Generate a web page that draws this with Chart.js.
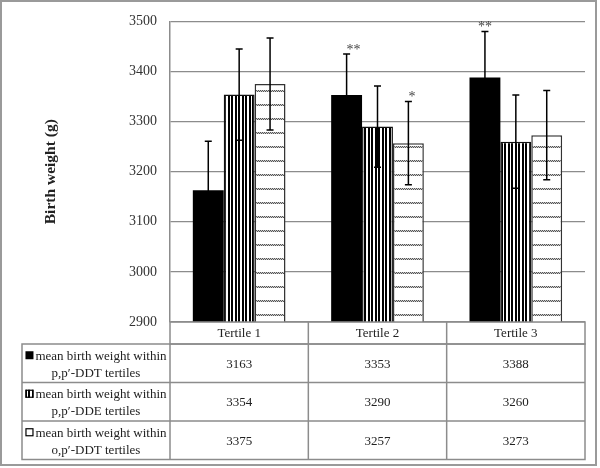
<!DOCTYPE html>
<html>
<head>
<meta charset="utf-8">
<script src="https://cdn.jsdelivr.net/npm/chart.js@4"></script>
<style>
  html, body { margin: 0; padding: 0; background: #fff; }
  #wrap { width: 600px; height: 468px; }
</style>
</head>
<body>
<div id="wrap"><canvas id="chart" width="600" height="468"></canvas></div>
<script>
// data
const categories = ["Tertile 1", "Tertile 2", "Tertile 3"];
const seriesLine1 = "mean birth weight within";
const seriesLine2 = ["p,p\u2032-DDT tertiles", "p,p\u2032-DDE tertiles", "o,p\u2032-DDT tertiles"];
const ddtMeans = [3163, 3353, 3388];
const ddeMeans = [3354, 3290, 3260];
const opDdtMeans = [3375, 3257, 3273];
const ddtErr = [98, 82, 92];
const ddeErr = [91, 81, 93];
const opDdtErr = [92, 83, 89];
const yTicks = [2900, 3000, 3100, 3200, 3300, 3400, 3500];
// significance marks: series index, category index, text
const marks = [
    { series: 0, cat: 1, text: "**", align: "left" },
    { series: 0, cat: 2, text: "**", align: "center" },
    { series: 2, cat: 1, text: "*", align: "left" }
];

const SERIF = "'Liberation Serif', 'DejaVu Serif', serif";

// fill patterns
function stripes() {
    const c = document.createElement("canvas");
    c.width = 7; c.height = 4;
    const g = c.getContext("2d");
    g.fillStyle = "#fff"; g.fillRect(0, 0, 7, 4);
    g.fillStyle = "#000"; g.fillRect(0, 0, 2, 4); g.fillRect(4, 0, 2, 4);
    return g.createPattern(c, "repeat");
}
function dots() {
    const c = document.createElement("canvas");
    c.width = 2; c.height = 14;
    const g = c.getContext("2d");
    g.fillStyle = "#fff"; g.fillRect(0, 0, 2, 14);
    g.fillStyle = "#555"; g.fillRect(0, 6, 1, 1); g.fillRect(1, 7, 1, 1);
    g.fillStyle = "#ccc"; g.fillRect(1, 6, 1, 1); g.fillRect(0, 7, 1, 1);
    return g.createPattern(c, "repeat");
}
const fills = ["#000", stripes(), dots()];
const errs = [ddtErr, ddeErr, opDdtErr];

// error bars + asterisks
const errorBars = {
    id: "errorBars",
    afterDatasetsDraw(chart) {
        const ctx = chart.ctx;
        const y = chart.scales.y;
        ctx.save();
        ctx.strokeStyle = "#000";
        ctx.lineWidth = 1.5;
        chart.data.datasets.forEach((ds, di) => {
            chart.getDatasetMeta(di).data.forEach((bar, i) => {
                const v = ds.data[i], e = errs[di][i];
                const top = y.getPixelForValue(v + e);
                const bot = y.getPixelForValue(v - e);
                ctx.beginPath();
                ctx.moveTo(bar.x, top); ctx.lineTo(bar.x, bot);
                ctx.moveTo(bar.x - 3.5, top); ctx.lineTo(bar.x + 3.5, top);
                ctx.moveTo(bar.x - 3.5, bot); ctx.lineTo(bar.x + 3.5, bot);
                ctx.stroke();
            });
        });
        ctx.fillStyle = "#444";
        ctx.font = "14px " + SERIF;
        ctx.textBaseline = "middle";
        marks.forEach(m => {
            const bar = chart.getDatasetMeta(m.series).data[m.cat];
            const v = chart.data.datasets[m.series].data[m.cat] + errs[m.series][m.cat];
            ctx.textAlign = m.align;
            ctx.fillText(m.text, bar.x, y.getPixelForValue(v) - 4);
        });
        ctx.restore();
    }
};

// data table under the plot + outer frame
const dataTable = {
    id: "dataTable",
    afterDraw(chart) {
        const ctx = chart.ctx;
        const x = chart.scales.x;
        const area = chart.chartArea;
        const colW = (area.right - area.left) / categories.length;
        const headBottom = area.bottom + 22;
        const rowH = 38.5;
        const left = 22;
        const series = [ddtMeans, ddeMeans, opDdtMeans];
        ctx.save();
        ctx.strokeStyle = "#8c8c8c";
        ctx.lineWidth = 1.5;
        // header
        ctx.strokeRect(area.left, area.bottom, area.right - area.left, headBottom - area.bottom);
        ctx.beginPath();
        for (let i = 1; i < categories.length; i++) {
            ctx.moveTo(area.left + colW * i, area.bottom);
            ctx.lineTo(area.left + colW * i, headBottom + rowH * series.length);
        }
        ctx.stroke();
        ctx.strokeRect(left, headBottom, area.right - left, rowH * series.length);
        ctx.beginPath();
        ctx.moveTo(area.left, headBottom); ctx.lineTo(area.left, headBottom + rowH * series.length);
        for (let r = 1; r < series.length; r++) {
            ctx.moveTo(left, headBottom + rowH * r); ctx.lineTo(area.right, headBottom + rowH * r);
        }
        ctx.stroke();

        ctx.fillStyle = "#222";
        ctx.font = "13px " + SERIF;
        ctx.textAlign = "center";
        ctx.textBaseline = "middle";
        categories.forEach((c, i) => {
            ctx.fillText(c, x.getPixelForValue(i), (area.bottom + headBottom) / 2 + 1);
        });
        series.forEach((vals, r) => {
            const mid = headBottom + rowH * r + rowH / 2;
            vals.forEach((v, i) => ctx.fillText(String(v), x.getPixelForValue(i), mid + 1));
            // legend cell
            const cx = (left + area.left) / 2;
            const w1 = ctx.measureText(seriesLine1).width;
            const tot = w1 + 10;
            const sx = cx - tot / 2;
            const ly = mid - 8;
            ctx.fillStyle = fills[r];
            ctx.fillRect(sx, ly - 4, 8, 8);
            if (r > 0) {
                ctx.strokeStyle = "#000";
                ctx.lineWidth = 1.2;
                ctx.strokeRect(sx + 0.5, ly - 3.5, 7, 7);
            }
            ctx.fillStyle = "#222";
            ctx.textAlign = "left";
            ctx.fillText(seriesLine1, sx + 10, ly + 1);
            ctx.textAlign = "center";
            ctx.fillText(seriesLine2[r], cx, mid + 10);
        });
        // outer frame
        ctx.strokeStyle = "#9a9a9a";
        ctx.lineWidth = 2;
        ctx.strokeRect(1, 1, 595, 464);
        ctx.restore();
    }
};

new Chart(document.getElementById("chart"), {
    type: "bar",
    data: {
        labels: categories,
        datasets: [
            { label: seriesLine1 + " " + seriesLine2[0], data: ddtMeans, backgroundColor: fills[0], borderColor: "#000", borderWidth: 0 },
            { label: seriesLine1 + " " + seriesLine2[1], data: ddeMeans, backgroundColor: fills[1], borderColor: "#111", borderWidth: 1.5 },
            { label: seriesLine1 + " " + seriesLine2[2], data: opDdtMeans, backgroundColor: fills[2], borderColor: "#333", borderWidth: 1.5 }
        ]
    },
    options: {
        responsive: false,
        animation: false,
        layout: { padding: { left: 42, right: 15, top: 16, bottom: 146 } },
        datasets: { bar: { categoryPercentage: 0.67, barPercentage: 1 } },
        plugins: { legend: { display: false }, tooltip: { enabled: false } },
        scales: {
            x: { display: false },
            y: {
                min: yTicks[0],
                max: yTicks[yTicks.length - 1],
                afterBuildTicks(scale) { scale.ticks = yTicks.map(v => ({ value: v })); },
                afterFit(scale) { scale.width = 128; },
                grid: { color: "#8c8c8c", lineWidth: 1.2, drawTicks: false },
                border: { color: "#8c8c8c", width: 1.5 },
                ticks: {
                    padding: 13, color: "#333",
                    font: { family: SERIF, size: 14 },
                    callback: v => String(v)
                },
                title: {
                    display: true,
                    text: "Birth weight (g)",
                    color: "#222",
                    padding: { top: 0, bottom: 0 },
                    font: { family: SERIF, size: 15.5, weight: "bold" }
                }
            }
        }
    },
    plugins: [errorBars, dataTable]
});
</script>
</body>
</html>
